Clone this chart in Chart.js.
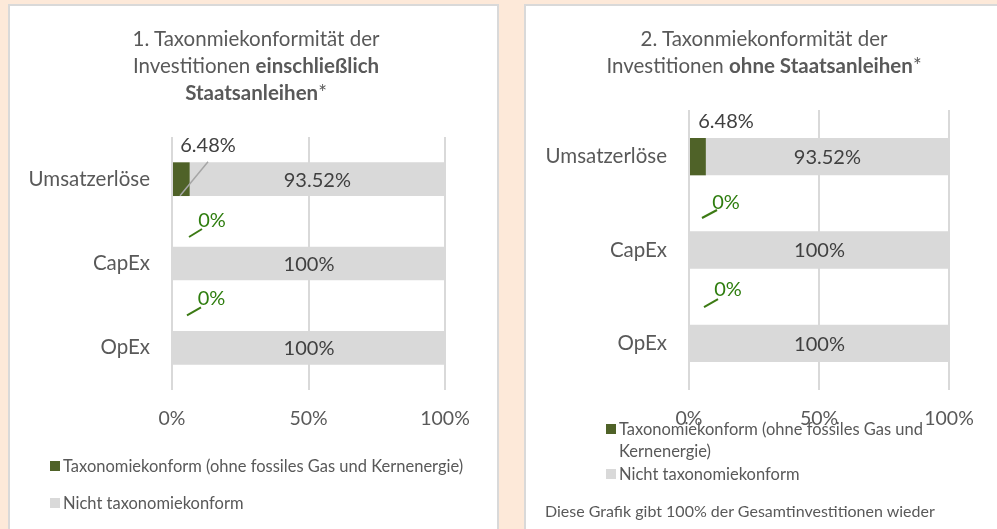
<!DOCTYPE html>
<html><head><meta charset="utf-8">
<script src="https://cdn.jsdelivr.net/npm/chart.js@4/dist/chart.umd.min.js"></script>
<style>
html,body{margin:0;padding:0;}
body{width:997px;height:529px;background:#FDE9D9;position:relative;overflow:hidden;font-family:Lato,sans-serif;color:#595959;}
.panel{position:absolute;background:#fff;border:2px solid #D9D9D9;box-sizing:border-box;}
#p1{left:8px;top:4px;width:491px;height:560px;}
#p2{left:524px;top:4px;width:500px;height:560px;}
canvas{position:absolute;top:0;}
#c1{left:0;}
#c2{left:497px;}
.title{position:absolute;top:25px;text-align:center;font-size:20.5px;line-height:27px;white-space:nowrap;transform:translateX(-50%);}
.title b{font-weight:700;}
.leg{position:absolute;font-size:16.5px;line-height:22px;white-space:nowrap;z-index:5;}
.sw{position:absolute;width:10px;height:10px;}
.foot{position:absolute;font-size:16px;line-height:20px;white-space:nowrap;}
</style>
</head><body>
<div class="panel" id="p1"></div>
<div class="panel" id="p2"></div>
<canvas id="c1" width="497" height="529"></canvas>
<canvas id="c2" width="500" height="529"></canvas>
<div class="title" style="left:256px">1. Taxonmiekonformität der<br>Investitionen <b>einschließlich</b><br><b>Staatsanleihen</b>*</div>
<div class="title" style="left:764px">2. Taxonmiekonformität der<br>Investitionen <b>ohne Staatsanleihen</b>*</div>
<div class="foot" style="left:545px;top:501px">Diese Grafik gibt 100% der Gesamtinvestitionen wieder</div>
<script>
const categories = ['Umsatzerlöse', 'CapEx', 'OpEx'];
const alignedValues = [6.48, 0, 0];
const notAlignedValues = [93.52, 100, 100];
const tickValues = [0, 50, 100];
const seriesNames = ['Taxonomiekonform (ohne fossiles Gas und Kernenergie)', 'Nicht taxonomiekonform'];
const seriesColors = ['#4F6228', '#D9D9D9'];

// legends (HTML)
function legendItem(x, yc, color, html){
  const sw = document.createElement('div'); sw.className='sw';
  sw.style.left = x+'px'; sw.style.top = (yc-5)+'px'; sw.style.background = color; sw.style.zIndex=5;
  document.body.appendChild(sw);
  const t = document.createElement('div'); t.className='leg';
  t.style.left = (x+13)+'px'; t.style.top = (yc-11)+'px'; t.innerHTML = html;
  document.body.appendChild(t);
}
legendItem(50, 466, seriesColors[0], seriesNames[0]);
legendItem(50, 503, seriesColors[1], seriesNames[1]);
legendItem(606, 429, seriesColors[0], seriesNames[0].replace(' Kernenergie', '<br>Kernenergie'));
legendItem(606, 474, seriesColors[1], seriesNames[1]);

function labelPlugin(cfg){
  return {id:'lbl', afterDatasetsDraw(chart){
    const ctx = chart.ctx;
    const x0 = chart.scales.x.getPixelForValue(0);
    const m1 = chart.getDatasetMeta(1);
    ctx.save();
    ctx.font = '20px Lato';
    ctx.textAlign = 'center';
    ctx.textBaseline = 'middle';
    categories.forEach((c, i) => {
      const g = m1.data[i];
      const yc = g.y;
      ctx.fillStyle = '#404040';
      ctx.fillText(notAlignedValues[i] + '%', (g.x + g.base) / 2, yc + 1);
      const a = cfg[i];
      const zero = alignedValues[i] === 0;
      if (a.leader) {
        ctx.strokeStyle = zero ? '#3C7A14' : '#A6A6A6';
        ctx.lineWidth = zero ? 2 : 1.5;
        ctx.beginPath();
        ctx.moveTo(x0 + a.leader[0], yc + a.leader[1]);
        ctx.lineTo(x0 + a.leader[2], yc + a.leader[3]);
        ctx.stroke();
      }
      ctx.fillStyle = zero ? '#2E7D0E' : '#404040';
      ctx.fillText(alignedValues[i] + '%', x0 + a.dx, yc + a.dy);
    });
    ctx.restore();
  }};
}

function makeChart(id, pad, yWidth, cfg){
  return new Chart(document.getElementById(id), {
    type: 'bar',
    data: {
      labels: categories,
      datasets: [
        {label: seriesNames[0], data: alignedValues, backgroundColor: seriesColors[0], borderWidth: 0, categoryPercentage: 0.4, barPercentage: 1},
        {label: seriesNames[1], data: notAlignedValues, backgroundColor: seriesColors[1], borderWidth: 0, categoryPercentage: 0.4, barPercentage: 1}
      ]
    },
    options: {
      indexAxis: 'y',
      responsive: false,
      animation: false,
      devicePixelRatio: 1,
      layout: {padding: pad},
      plugins: {legend: {display: false}, tooltip: {enabled: false}, title: {display: false}},
      scales: {
        x: {
          stacked: true, min: 0, max: 100,
          afterBuildTicks: s => { s.ticks = tickValues.map(v => ({value: v})); },
          afterFit: s => { s.height = 40; },
          ticks: {callback: v => v + '%', font: {family: 'Lato', size: 19.5}, color: '#595959', padding: 17},
          grid: {color: '#D9D9D9', lineWidth: 2, drawTicks: false},
          border: {display: false}
        },
        y: {
          stacked: true,
          afterFit: s => { s.width = yWidth; },
          ticks: {font: {family: 'Lato', size: 20.5}, color: '#595959', padding: 22},
          grid: {display: false, drawTicks: false},
          border: {display: false}
        }
      }
    },
    plugins: [labelPlugin(cfg)]
  });
}

makeChart('c1', {top: 137, right: 52, bottom: 99, left: 0}, 172, [
  {dx: 36, dy: -33.5, leader: [8, 16.5, 36, -17.5]},
  {dx: 40, dy: -42.5, leader: [17, -26.5, 30, -34.5]},
  {dx: 39.5, dy: -49.5, leader: [15, -32.5, 29, -40.5]}
]);
makeChart('c2', {top: 110, right: 48, bottom: 99, left: 0}, 192, [
  {dx: 37, dy: -34.7},
  {dx: 37, dy: -47, leader: [13, -32, 28, -40]},
  {dx: 39, dy: -53.3, leader: [15, -36.3, 29, -44.3]}
]);
</script>
</body></html>
